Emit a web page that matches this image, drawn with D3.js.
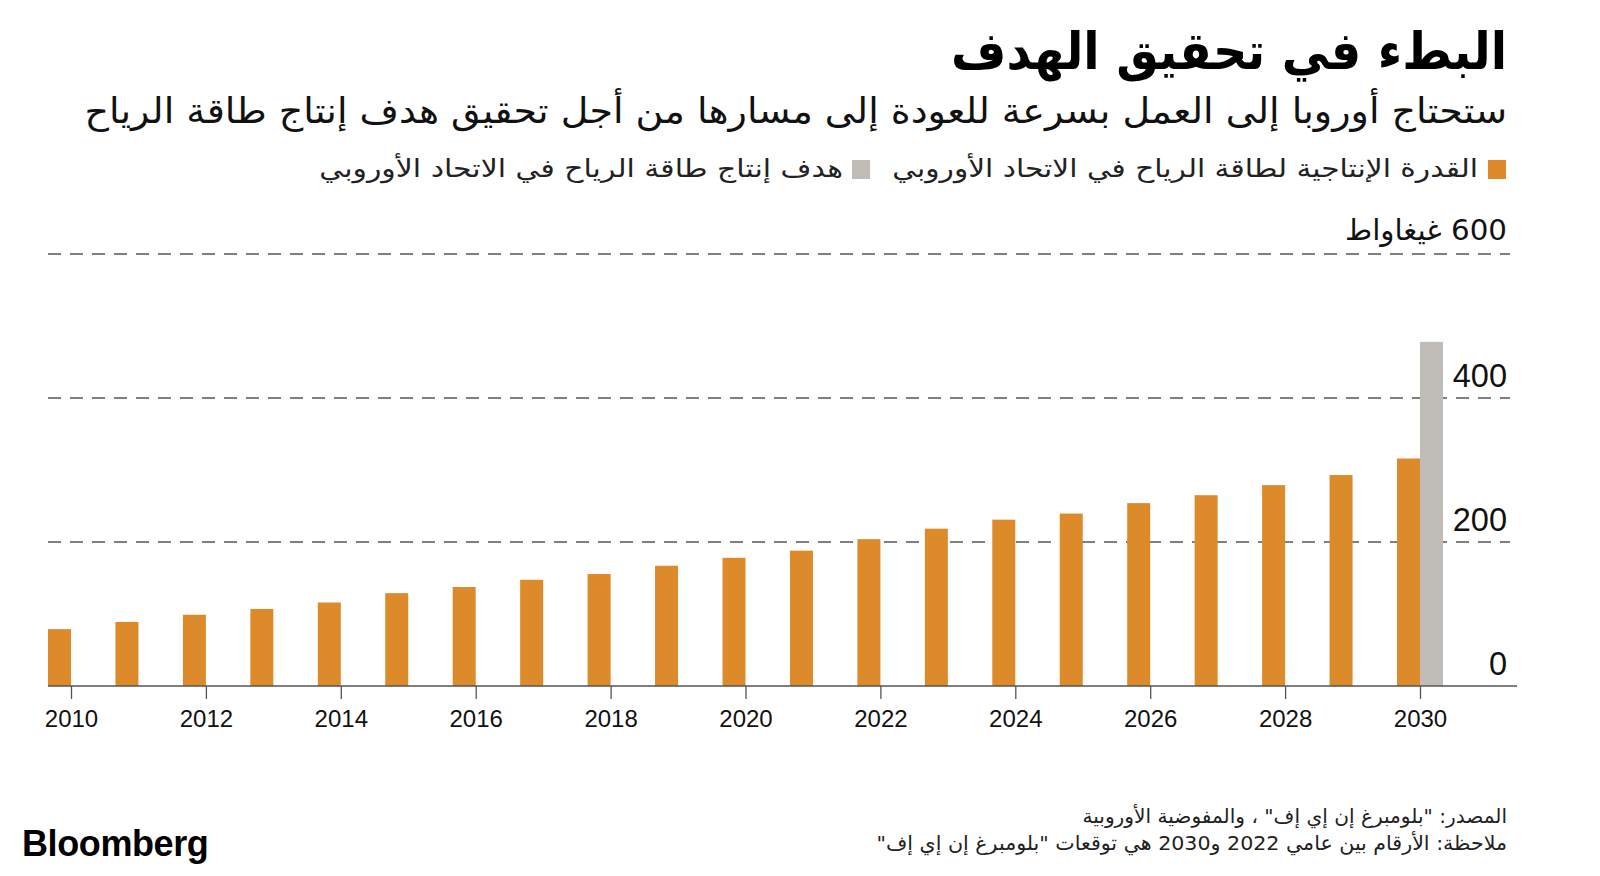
<!DOCTYPE html>
<html><head><meta charset="utf-8">
<script src="https://cdn.jsdelivr.net/npm/d3@7"></script>
<style>body{margin:0;background:#fff} svg{display:block}</style>
</head><body><svg id="c" width="1600" height="876"></svg>
<script>
const title = "البطء في تحقيق الهدف";
const subtitle = "ستحتاج أوروبا إلى العمل بسرعة للعودة إلى مسارها من أجل تحقيق هدف إنتاج طاقة الرياح";
const seriesNames = ["القدرة الإنتاجية لطاقة الرياح في الاتحاد الأوروبي", "هدف إنتاج طاقة الرياح في الاتحاد الأوروبي"];
const years = [2010,2011,2012,2013,2014,2015,2016,2017,2018,2019,2020,2021,2022,2023,2024,2025,2026,2027,2028,2029,2030];
const capacity = [79,89,99,107,116,129,137.5,147.5,155.5,167,178,188,204,218.5,231,239.5,254,265,279,293,316];
const targetYears = [2030];
const targetValues = [478];
const yTicks = [0,200,400,600];
const yUnit = "غيغاواط";
const xTicks = [2010,2012,2014,2016,2018,2020,2022,2024,2026,2028,2030];
const source = 'المصدر: "بلومبرغ إن إي إف" ، والمفوضية الأوروبية';
const note = 'ملاحظة: الأرقام بين عامي 2022 و2030 هي توقعات "بلومبرغ إن إي إف"';

const ORANGE = "#DD8A2A", GRAY = "#C0BDB8";
const AR = "'DejaVu Sans', sans-serif";
const LAT = "'Liberation Sans', Arial, sans-serif";
const svg = d3.select("#c");

const barW = 23;
const x = d3.scaleLinear().domain([2010, 2030]).range([71, 1420]);
const y = d3.scaleLinear().domain([0, 600]).range([686, 254]);

function fitX(sel, ax, w) {
  const len = sel.node().getComputedTextLength();
  const s = w / len;
  sel.attr("transform", `translate(${ax},0) scale(${s},1) translate(${-ax},0)`);
}
function arText(xr, yb, txt, size, weight, color, w) {
  const t = svg.append("text").attr("x", xr).attr("y", yb)
    .attr("direction", "rtl").attr("text-anchor", "start")
    .style("font-family", AR).style("font-size", size + "px")
    .style("font-weight", weight).attr("fill", color).text(txt);
  if (w) fitX(t, xr, w);
  return t;
}

// Title & subtitle
arText(1507, 69, title, 52, 700, "#000", 556);
arText(1507, 123, subtitle, 35, 400, "#111", 1423);

// Legend
svg.append("rect").attr("x", 1488).attr("y", 160).attr("width", 18).attr("height", 19).attr("fill", ORANGE);
arText(1478, 177, seriesNames[0], 25, 400, "#222", 586);
svg.append("rect").attr("x", 852).attr("y", 160).attr("width", 18).attr("height", 19).attr("fill", GRAY);
arText(843, 177, seriesNames[1], 25, 400, "#222", 524);

// Gridlines
const gridG = svg.append("g");
gridG.selectAll("line").data(yTicks.filter(d => d > 0)).join("line")
  .attr("x1", x(2010) - barW).attr("x2", 1510)
  .attr("y1", d => y(d)).attr("y2", d => y(d))
  .attr("stroke", "#555").attr("stroke-width", 1.3).attr("stroke-dasharray", "13,9");

// Bars
svg.append("g").selectAll("rect").data(years.map((yr, i) => ({yr, v: capacity[i]}))).join("rect")
  .attr("x", d => x(d.yr) - barW).attr("width", barW)
  .attr("y", d => y(d.v)).attr("height", d => y(0) - y(d.v)).attr("fill", ORANGE);
svg.append("g").selectAll("rect").data(targetYears.map((yr, i) => ({yr, v: targetValues[i]}))).join("rect")
  .attr("x", d => x(d.yr)).attr("width", barW)
  .attr("y", d => y(d.v)).attr("height", d => y(0) - y(d.v)).attr("fill", GRAY);

// X axis
const xAxis = svg.append("g").attr("transform", `translate(0,${y(0)})`)
  .call(d3.axisBottom(x).tickValues(xTicks).tickFormat(d3.format("d")).tickSize(13).tickPadding(11));
xAxis.select(".domain").remove();
xAxis.selectAll(".tick line").attr("stroke", "#555").attr("stroke-width", 1.3);
xAxis.selectAll(".tick text").style("font-family", LAT).style("font-size", "24px").attr("fill", "#111");
svg.append("line").attr("x1", x(2010) - barW).attr("x2", 1517).attr("y1", y(0)).attr("y2", y(0))
  .attr("stroke", "#555").attr("stroke-width", 1.3);

// Y labels
svg.append("g").selectAll("text").data(yTicks.filter(d => d < 600)).join("text")
  .attr("x", 1507).attr("y", d => y(d) - 11).attr("text-anchor", "end")
  .style("font-family", LAT).style("font-size", "32.5px").attr("fill", "#111").text(d => d);
arText(1507, y(600) - 14, yTicks[3] + " " + yUnit, 29, 400, "#111", 162);

// Footer
arText(1507, 823, source, 20, 400, "#222", 425);
arText(1507, 850, note, 20, 400, "#222", 631);

svg.append("text").attr("x", 22).attr("y", 856)
  .style("font-family", LAT).style("font-size", "36px").style("font-weight", 700)
  .style("letter-spacing", "-0.4px").attr("fill", "#000").text("Bloomberg");
</script></body></html>
